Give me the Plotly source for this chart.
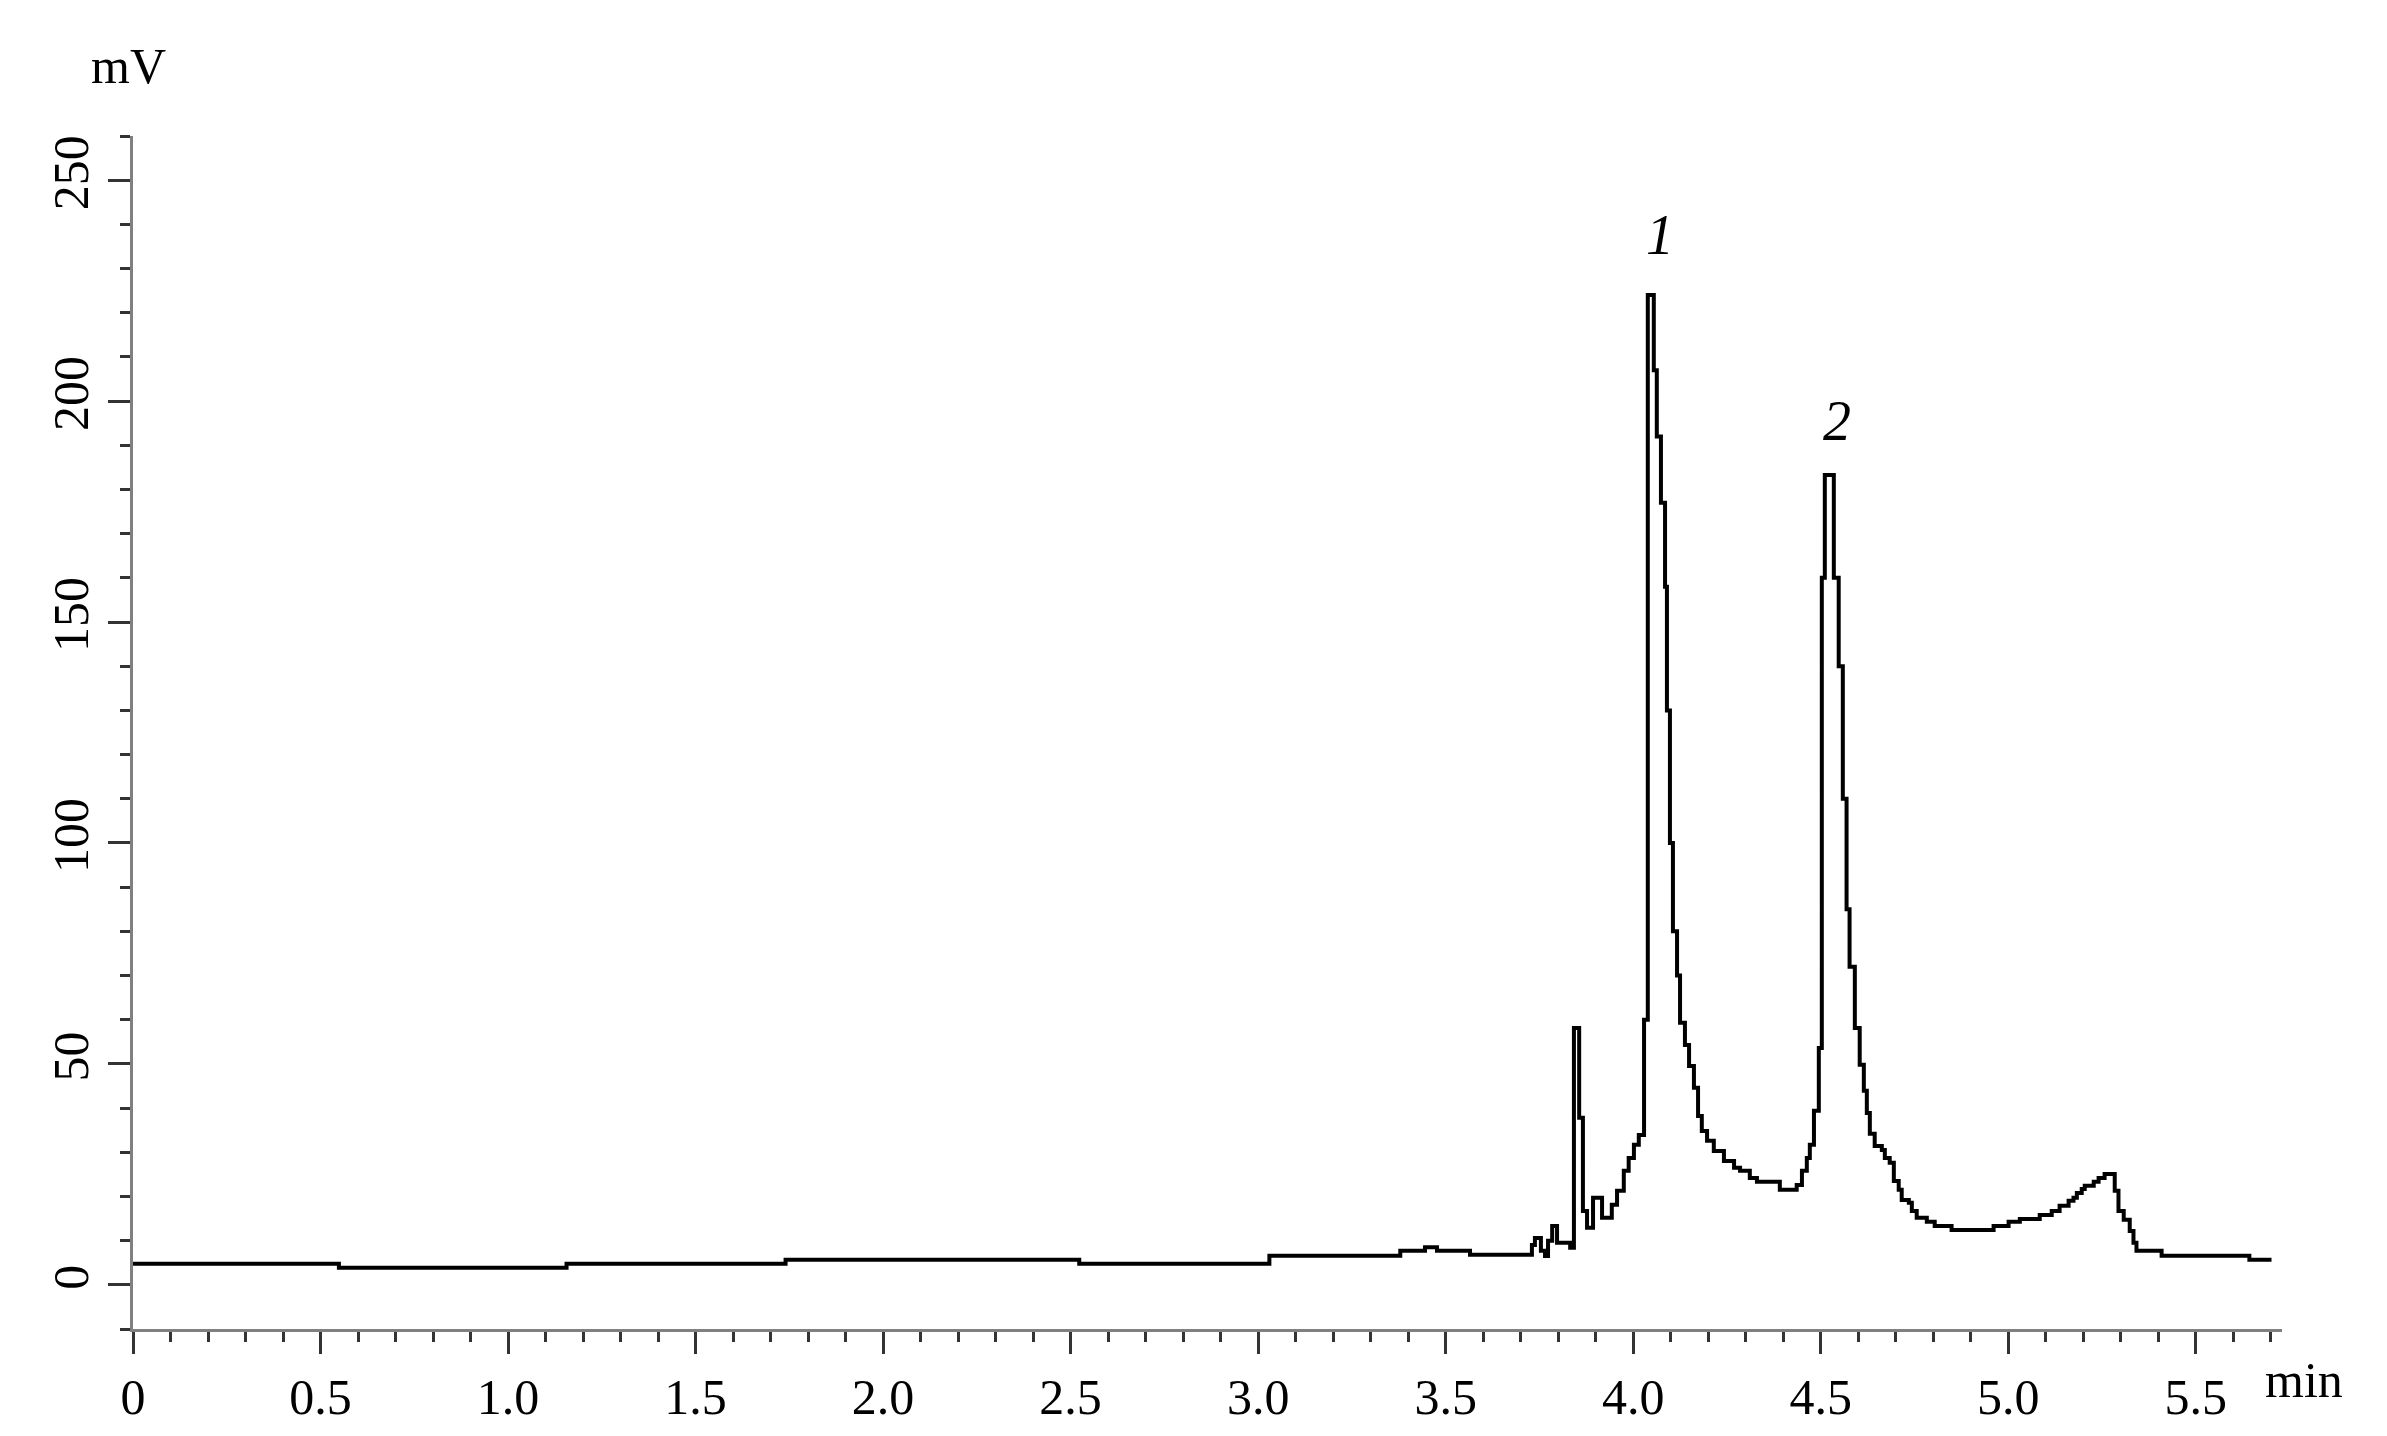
import plotly.graph_objects as go

# retention time (min) and detector signal (mV)
time_min = [
    0.000, 0.549, 1.156, 1.740, 2.523, 3.030, 3.379, 3.445, 3.477, 3.565,
    3.730, 3.738, 3.754, 3.765, 3.773, 3.784, 3.797, 3.832, 3.842, 3.856,
    3.866, 3.877, 3.893, 3.917, 3.943, 3.957, 3.975, 3.988, 4.002, 4.015,
    4.029, 4.039, 4.055, 4.063, 4.074, 4.085, 4.090, 4.098, 4.106, 4.117,
    4.125, 4.138, 4.149, 4.162, 4.173, 4.183, 4.197, 4.215, 4.242, 4.269,
    4.285, 4.311, 4.330, 4.391, 4.436, 4.450, 4.463, 4.471, 4.482, 4.495,
    4.503, 4.511, 4.535, 4.548, 4.559, 4.569, 4.577, 4.591, 4.604, 4.615,
    4.623, 4.631, 4.644, 4.663, 4.671, 4.684, 4.695, 4.708, 4.716, 4.735,
    4.743, 4.756, 4.783, 4.804, 4.849, 4.961, 5.001, 5.031, 5.084, 5.116,
    5.137, 5.161, 5.174, 5.183, 5.196, 5.204, 5.228, 5.241, 5.257, 5.284,
    5.294, 5.308, 5.324, 5.334, 5.342, 5.409, 5.643, 5.702,
]
signal_mv = [
    4.75, 3.85, 4.75, 5.7, 4.75, 6.6, 7.7, 8.5, 7.7, 6.8,
    9.0, 10.6, 7.7, 6.5, 10.0, 13.3, 9.5, 8.4, 58.1, 37.8,
    16.7, 12.9, 19.7, 15.2, 18.1, 21.3, 25.8, 28.7, 31.7, 33.9,
    60.0, 224.0, 207.0, 192.0, 177.0, 158.0, 130.0, 100.0, 80.0, 70.0,
    59.3, 54.3, 49.5, 44.6, 38.2, 34.8, 32.6, 30.3, 28.0, 26.5,
    25.8, 24.2, 23.3, 21.5, 22.6, 25.8, 28.7, 31.7, 39.4, 53.6,
    160.0, 183.3, 160.0, 140.0, 110.0, 85.0, 72.0, 58.1, 49.8, 43.9,
    38.9, 34.2, 31.4, 30.5, 28.7, 27.6, 23.5, 21.5, 19.2, 18.6,
    16.7, 15.2, 14.3, 13.3, 12.4, 13.3, 14.3, 14.9, 15.8, 16.7,
    17.9, 19.0, 19.7, 20.8, 21.7, 22.4, 23.3, 24.2, 25.1, 21.3,
    16.7, 14.7, 12.2, 9.5, 7.7, 6.6, 5.7, 5.7,
]

peak_labels = ["1", "2"]
peak_label_time = [4.071, 4.543]
peak_label_mv = [237.5, 195.5]

FONT = "Liberation Serif"

fig = go.Figure()
fig.add_trace(go.Scatter(
    x=time_min, y=signal_mv,
    mode="lines", line=dict(color="black", width=4, shape="hv"),
    showlegend=False, hoverinfo="skip",
))

for lab, t, v in zip(peak_labels, peak_label_time, peak_label_mv):
    fig.add_annotation(x=t, y=v, text=f"<i>{lab}</i>", showarrow=False,
                       font=dict(family=FONT, size=56, color="black"))

fig.add_annotation(xref="paper", yref="paper", x=-0.002, y=1.059, text="mV",
                   showarrow=False, xanchor="center", yanchor="middle",
                   font=dict(family=FONT, size=50, color="black"))
fig.add_annotation(xref="paper", yref="paper", x=1.0102, y=-0.043, text="min",
                   showarrow=False, xanchor="center", yanchor="middle",
                   font=dict(family=FONT, size=50, color="black"))

fig.update_layout(
    width=2387, height=1436,
    margin=dict(l=125, r=113, t=128, b=115, autoexpand=False),
    plot_bgcolor="white", paper_bgcolor="white",
    font=dict(family=FONT, size=50, color="black"),
)
fig.update_xaxes(
    range=[0, 5.73], showgrid=False, zeroline=False, automargin=False,
    showline=True, linecolor="#808080", linewidth=3,
    tickmode="array", tickvals=[0, 0.5, 1, 1.5, 2, 2.5, 3, 3.5, 4, 4.5, 5, 5.5],
    ticktext=["0", "0.5", "1.0", "1.5", "2.0", "2.5", "3.0", "3.5", "4.0", "4.5", "5.0", "5.5"],
    ticks="outside", ticklen=22, tickwidth=3, tickcolor="#333333",
    minor=dict(dtick=0.1, tick0=0, ticks="outside", ticklen=10, tickwidth=3, tickcolor="#333333"),
    tickfont=dict(family=FONT, size=50, color="black"),
)
fig.update_yaxes(
    range=[-10, 260], showgrid=False, zeroline=False, automargin=False,
    showline=True, linecolor="#808080", linewidth=3,
    tickvals=[0, 50, 100, 150, 200, 250], tickangle=-90,
    ticks="outside", ticklen=22, tickwidth=3, tickcolor="#333333",
    minor=dict(dtick=10, tick0=0, ticks="outside", ticklen=10, tickwidth=3, tickcolor="#333333"),
    tickfont=dict(family=FONT, size=50, color="black"),
)

fig.write_html("out.html")
